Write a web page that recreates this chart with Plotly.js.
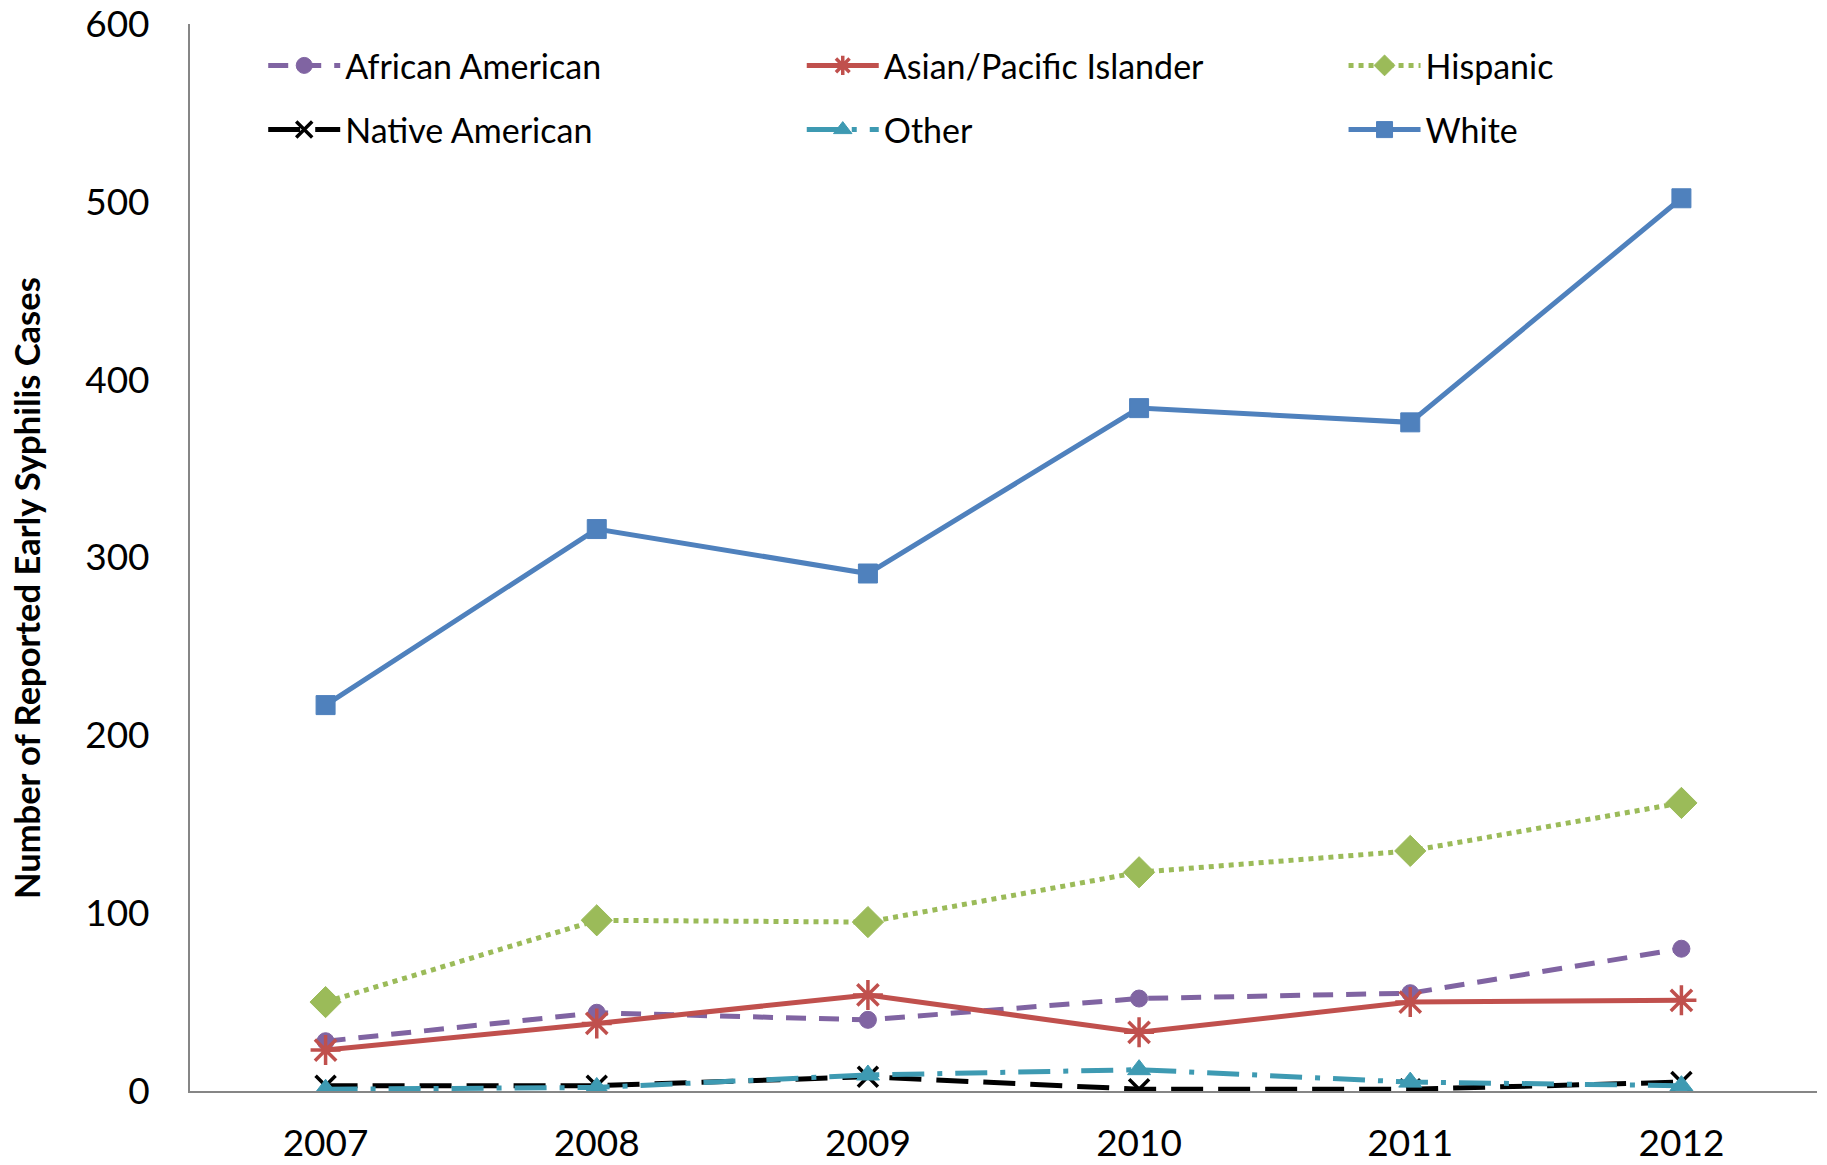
<!DOCTYPE html>
<html>
<head>
<meta charset="utf-8">
<script src="https://cdn.plot.ly/plotly-3.0.1.min.js"></script>
<style>html,body{margin:0;padding:0;background:#fff;}#chart{width:1827px;height:1165px;}</style>
</head>
<body>
<div id="chart"></div>
<script>
const years = ['2007', '2008', '2009', '2010', '2011', '2012'];
const africanAmerican = [28, 44, 40, 52, 55, 80];
const asianPacific = [23, 38, 54, 33, 50, 51];
const hispanic = [50, 96, 95, 123, 135, 162];
const nativeAmerican = [3, 3, 8, 1, 1, 5];
const other = [1, 2, 9, 12, 5, 3];
const white = [217, 316, 291, 384, 376, 502];
const yTicks = [0, 100, 200, 300, 400, 500, 600];
const yTitle = 'Number of Reported Early Syphilis Cases';

const FONT = 'Lato, "Open Sans", sans-serif';

function tr(name, y, color, dash, symbol, msize, lw, legendId) {
  return {
    type: 'scatter', mode: 'lines+markers', name: name, x: years, y: y,
    legend: legendId, legendgroup: name,
    line: {color: color, width: 5, dash: dash},
    marker: {symbol: symbol, size: msize, color: color, line: {color: color, width: lw}}
  };
}

const data = [
  tr('African American', africanAmerican, '#8064A2', '20px,13px', 'circle', 17, 1, 'legend'),
  tr('Native American', nativeAmerican, '#000000', '32px,15px', 'x-thin-open', 20, 3.5, 'legend'),
  tr('Asian/Pacific Islander', asianPacific, '#C0504D', 'solid', 'asterisk-open', 25, 3.5, 'legend2'),
  tr('Other', other, '#3E9AB2', '32px,13px,5px,13px', 'triangle-up', 20, 1, 'legend2'),
  tr('Hispanic', hispanic, '#9BBB59', 'dot', 'diamond', 24, 1, 'legend3'),
  tr('White', white, '#4F81BD', 'solid', 'square', 19, 1, 'legend3')
];

function leg(x) {
  return {
    orientation: 'v', x: x, y: 0.988, xanchor: 'left', yanchor: 'top',
    font: {family: FONT, size: 34, color: '#000'},
    bgcolor: 'rgba(0,0,0,0)', tracegroupgap: 17, itemwidth: 72
  };
}

const layout = {
  width: 1827, height: 1165,
  margin: {l: 190, r: 10, t: 24, b: 74},
  paper_bgcolor: '#ffffff', plot_bgcolor: '#ffffff',
  font: {family: FONT, color: '#000000'},
  showlegend: true,
  legend: leg(0.045),
  legend2: leg(0.376),
  legend3: leg(0.709),
  xaxis: {
    type: 'category', range: [-0.5, 5.5],
    showline: true, linecolor: '#868686', linewidth: 2,
    showgrid: false, zeroline: false, ticks: '',
    tickfont: {family: FONT, size: 37, color: '#000'},
    ticklabelstandoff: 19, ticklabeloverflow: 'allow'
  },
  yaxis: {
    range: [0, 600], tickmode: 'array', tickvals: yTicks, ticktext: yTicks.map(String),
    showline: true, linecolor: '#868686', linewidth: 2,
    showgrid: false, zeroline: false, ticks: '',
    tickfont: {family: FONT, size: 37, color: '#000'},
    ticklabelstandoff: 31, ticklabeloverflow: 'allow'
  },
  annotations: [{
    text: '<b>' + yTitle + '</b>', textangle: -90,
    xref: 'paper', yref: 'paper', x: -0.1008, y: 0.4714,
    xanchor: 'center', yanchor: 'middle', showarrow: false,
    font: {family: FONT, size: 34.5, color: '#000'}
  }]
};

Plotly.newPlot('chart', data, layout, {displayModeBar: false, staticPlot: true});
</script>
</body>
</html>
